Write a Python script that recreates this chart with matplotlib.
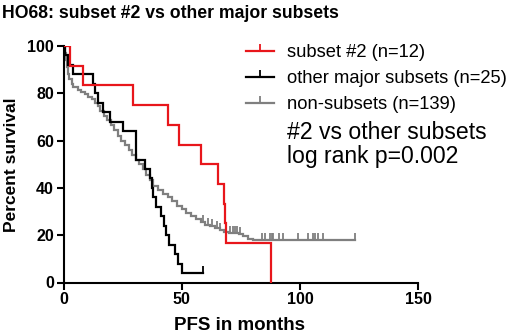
import numpy as np
import matplotlib
matplotlib.use("Agg")
import matplotlib.pyplot as plt
from matplotlib.lines import Line2D

plt.rcParams['font.family'] = ['Liberation Sans', 'DejaVu Sans']

# ---- data ----
red_t = [0, 2.7, 8.4, 29.3, 44.0, 49.0, 58.2, 65.5, 67.8, 68.4, 68.8, 87.8]
red_s = [100, 91.7, 83.3, 75.0, 66.7, 58.3, 50.0, 41.7, 33.3, 25.0, 16.7, 0.0]
red_cens = []

black_t = [0, 0.7, 2.0, 4.0, 12.6, 13.3, 14.7, 16.5, 19.5, 25.2, 30.7, 34.5, 36.6,
           37.5, 38.0, 39.2, 41.3, 42.5, 43.5, 44.5, 47.2, 48.6, 50.2]
black_s = [100, 96, 92, 88, 84, 80, 76, 72, 68, 64, 52, 48, 44,
           40, 36, 32, 28, 24, 20, 16, 12, 8, 4]
black_end = 59.1
black_cens = [59.1]

gray_t = [0, 0.5, 1, 1.5, 2, 2.5, 3.5, 4.2, 6, 7.5, 9, 10.5, 12, 13.5, 14.5, 15.5,
          17, 18.5, 20, 21.5, 23, 24.5, 26, 27.5, 29, 30.5, 32, 33.5, 35, 36.5, 38,
          40, 42, 44, 46, 48, 50, 52, 54, 56, 58, 60, 62, 64, 66, 68, 70, 74, 76, 78, 80]
gray_s = [100, 97, 94, 91, 88, 86, 84, 82.5, 81.5, 80.5, 79.5, 78.5, 77.5, 76, 74.5, 72.5,
          70.5, 68.5, 66.5, 64.5, 62, 60, 58, 56, 54, 52, 50, 48, 45.5, 43.5, 41,
          39, 37.5, 36, 34.5, 32.5, 31, 29.5, 28, 26.8, 25.5, 24.5, 23.8, 23, 22.2, 21.5, 21, 20.5, 19.5, 18.5, 17.8]
gray_end = 123.3
gray_cens = [59.1, 61.2, 62.7, 64.8, 66.2, 70.4, 71.8, 72.5, 73.3, 74.7, 83.8, 85.2, 87.3,
             88.1, 88.7, 90.9, 93.0, 99.3, 103.5, 105.6, 106.4, 107.8, 109.9, 123.3]

labels = ["subset #2 (n=12)", "other major subsets (n=25)", "non-subsets (n=139)"]
colors = ["#e8161b", "#000000", "#7f7f7f"]

xticks = [0, 50, 100, 150]
yticks = [0, 20, 40, 60, 80, 100]

# ---- figure ----
fig = plt.figure(figsize=(5.2, 3.36), dpi=100)
ax = fig.add_axes([63.5 / 520, 1 - 282.5 / 336, (418.3 - 63.5) / 520, (282.5 - 46) / 336])


def step_value(ts, ss, t):
    idx = np.searchsorted(ts, t, side='right') - 1
    return ss[max(idx, 0)]


def draw(ts, ss, end, cens, color, z):
    xs = list(ts) + ([end] if end is not None else [])
    ys = list(ss) + ([ss[-1]] if end is not None else [])
    ax.step(xs, ys, where='post', color=color, lw=1.6, zorder=z, solid_joinstyle='miter')
    if cens:
        cy = [step_value(ts, ss, c) for c in cens]
        ax.plot(cens, cy, ls='none', marker=2, ms=5, mew=1.3, color=color, zorder=z)


draw(gray_t, gray_s, gray_end, gray_cens, colors[2], 2)
draw(black_t, black_s, black_end, black_cens, colors[1], 3)
draw(red_t, red_s, None, red_cens, colors[0], 4)

ax.set_xlim(0, 150)
ax.set_ylim(0, 100)
ax.set_xticks(xticks)
ax.set_yticks(yticks)
for s in ['top', 'right']:
    ax.spines[s].set_visible(False)
for s in ['left', 'bottom']:
    ax.spines[s].set_linewidth(1.5)
ax.tick_params(width=1.5, length=5, labelsize=11.5, pad=2)
for lab in ax.get_xticklabels() + ax.get_yticklabels():
    lab.set_fontweight('bold')
for sp in ax.spines.values():
    sp.set_clip_on(False)

fig.text(2 / 520, 1 - 13 / 336, "HO68: subset #2 vs other major subsets",
         fontsize=12.7, fontweight='bold', va='center', ha='left')
fig.text(12 / 520, 1 - 165 / 336, "Percent survival", rotation=90,
         fontsize=12.5, fontweight='bold', va='center', ha='center')
fig.text(240 / 520, 1 - 325 / 336, "PFS in months",
         fontsize=13.5, fontweight='bold', va='center', ha='center')

handles = [Line2D([0], [0], color=c, lw=1.6, marker=2, ms=5, mew=1.3) for c in colors]
leg = fig.legend(handles, labels, loc='upper left', bbox_to_anchor=(246 / 520, 1 - 44 / 336),
                 frameon=False, fontsize=13.2, handlelength=1.5, handletextpad=0.75,
                 labelspacing=0.5, borderaxespad=0, borderpad=0)

fig.text(287 / 520, 1 - 133 / 336, "#2 vs other subsets", fontsize=16.6, va='center', ha='left')
fig.text(287 / 520, 1 - 157 / 336, "log rank p=0.002", fontsize=16.6, va='center', ha='left')

fig.savefig("out.png", dpi=100)
